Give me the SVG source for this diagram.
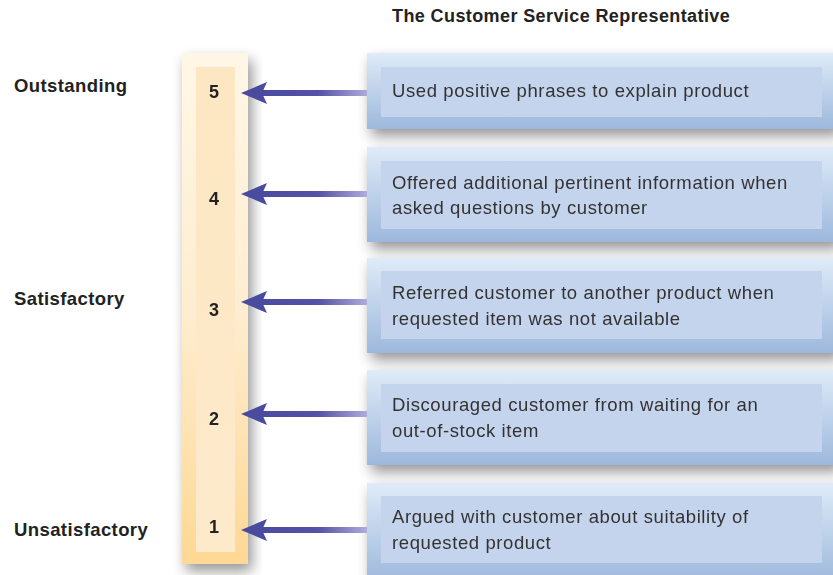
<svg xmlns="http://www.w3.org/2000/svg" width="833" height="575" viewBox="0 0 833 575">
<defs>
<linearGradient id="barOuter" x1="0" y1="0" x2="0" y2="1">
<stop offset="0" stop-color="#fff7e6"/>
<stop offset="0.5" stop-color="#feedd0"/>
<stop offset="1" stop-color="#fed894"/>
</linearGradient>
<linearGradient id="barInner" x1="0" y1="0" x2="0" y2="1">
<stop offset="0" stop-color="#fde7c2"/>
<stop offset="1" stop-color="#fdeacb"/>
</linearGradient>
<linearGradient id="boxOuter" x1="0" y1="0" x2="0" y2="1">
<stop offset="0" stop-color="#dfebf8"/>
<stop offset="1" stop-color="#9db8dc"/>
</linearGradient>
<linearGradient id="shaft" x1="0" y1="0" x2="1" y2="0">
<stop offset="0" stop-color="#4a4a9e"/>
<stop offset="0.55" stop-color="#5352a6"/>
<stop offset="1" stop-color="#b0aadb"/>
</linearGradient>
<filter id="shadow" x="-20%" y="-30%" width="140%" height="170%">
<feGaussianBlur in="SourceAlpha" stdDeviation="7"/>
<feOffset dx="4" dy="7" result="b"/>
<feComponentTransfer><feFuncA type="linear" slope="0.42"/></feComponentTransfer>
<feMerge><feMergeNode/><feMergeNode in="SourceGraphic"/></feMerge>
</filter>
</defs>
<style>
.lbl{font-family:"Liberation Sans",Arial,sans-serif;font-weight:bold;font-size:18.5px;letter-spacing:0.4px;fill:#222}
.ttl{font-family:"Liberation Sans",Arial,sans-serif;font-weight:bold;font-size:18px;letter-spacing:0.4px;fill:#222}
.num{font-family:"Liberation Sans",Arial,sans-serif;font-weight:bold;font-size:18px;fill:#222;text-anchor:middle}
.txt{font-family:"Liberation Sans",Arial,sans-serif;font-size:18.5px;letter-spacing:0.6px;fill:#333}
.outer{fill:url(#boxOuter)}
.inner{fill:#c5d4ed}
.shaft{fill:url(#shaft)}
.head{fill:#4a4a9e}
</style>
<rect width="833" height="575" fill="#ffffff"/>
<text class="ttl" x="392" y="22">The Customer Service Representative</text>
<g id="scale-labels">
<text class="lbl" x="14" y="92">Outstanding</text>
<text class="lbl" x="14" y="305">Satisfactory</text>
<text class="lbl" x="14" y="536">Unsatisfactory</text>
</g>
<g id="scale" filter="url(#shadow)">
<rect x="182" y="53" width="66" height="511" fill="url(#barOuter)"/>
<rect x="196" y="67" width="39" height="485" fill="url(#barInner)"/>
<text class="num" x="214" y="98">5</text>
<text class="num" x="214" y="205">4</text>
<text class="num" x="214" y="316">3</text>
<text class="num" x="214" y="425">2</text>
<text class="num" x="214" y="533">1</text>
</g>
<g id="box5" filter="url(#shadow)">
<rect class="outer" x="367" y="53" width="470" height="76"/>
<rect class="inner" x="381" y="67" width="441" height="50"/>
<text class="txt" x="392" y="97">Used positive phrases to explain product</text>
</g>
<g id="box4" filter="url(#shadow)">
<rect class="outer" x="367" y="147" width="470" height="95"/>
<rect class="inner" x="381" y="161" width="441" height="68"/>
<text class="txt" x="392" y="189">Offered additional pertinent information when</text>
<text class="txt" x="392" y="214">asked questions by customer</text>
</g>
<g id="box3" filter="url(#shadow)">
<rect class="outer" x="367" y="258" width="470" height="95"/>
<rect class="inner" x="381" y="271" width="441" height="68"/>
<text class="txt" x="392" y="299">Referred customer to another product when</text>
<text class="txt" x="392" y="325">requested item was not available</text>
</g>
<g id="box2" filter="url(#shadow)">
<rect class="outer" x="367" y="370" width="470" height="95"/>
<rect class="inner" x="381" y="384" width="441" height="68"/>
<text class="txt" x="392" y="411">Discouraged customer from waiting for an</text>
<text class="txt" x="392" y="437">out-of-stock item</text>
</g>
<g id="box1" filter="url(#shadow)">
<rect class="outer" x="367" y="483" width="470" height="100"/>
<rect class="inner" x="381" y="496" width="441" height="67"/>
<text class="txt" x="392" y="523">Argued with customer about suitability of</text>
<text class="txt" x="392" y="549">requested product</text>
</g>
<g id="connectors">
<g transform="translate(0,93)">
<rect class="shaft" x="258" y="-3" width="109" height="6"/>
<path class="head" d="M241 0 L267 -11 L262 0 L267 11 Z"/>
</g>
<g transform="translate(0,194)">
<rect class="shaft" x="258" y="-3" width="109" height="6"/>
<path class="head" d="M241 0 L267 -11 L262 0 L267 11 Z"/>
</g>
<g transform="translate(0,302)">
<rect class="shaft" x="258" y="-3" width="109" height="6"/>
<path class="head" d="M241 0 L267 -11 L262 0 L267 11 Z"/>
</g>
<g transform="translate(0,414)">
<rect class="shaft" x="258" y="-3" width="109" height="6"/>
<path class="head" d="M241 0 L267 -11 L262 0 L267 11 Z"/>
</g>
<g transform="translate(0,530)">
<rect class="shaft" x="258" y="-3" width="109" height="6"/>
<path class="head" d="M241 0 L267 -11 L262 0 L267 11 Z"/>
</g>
</g>
</svg>
